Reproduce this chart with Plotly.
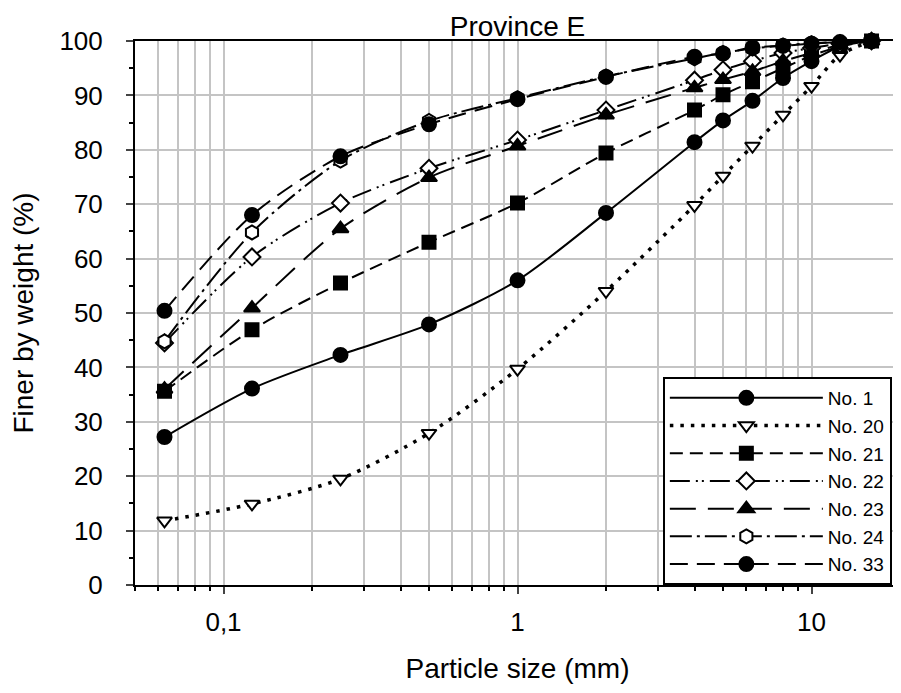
import plotly.graph_objects as go

sizes = [0.063, 0.125, 0.25, 0.5, 1, 2, 4, 5, 6.3, 8, 10, 12.5, 16]

no1 = [27.2, 36.1, 42.3, 47.9, 56.0, 68.4, 81.4, 85.4, 89.0, 93.2, 96.3, 99.0, 100]
no20 = [11.8, 14.9, 19.5, 27.9, 39.7, 54.0, 69.8, 75.2, 80.7, 86.4, 91.7, 97.4, 100]
no21 = [35.6, 46.9, 55.5, 63.0, 70.2, 79.4, 87.3, 90.1, 92.5, 95.0, 97.3, 99.0, 100]
no22 = [44.5, 60.3, 70.2, 76.6, 81.8, 87.3, 92.8, 94.7, 96.3, 97.8, 98.7, 99.5, 100]
no23 = [36.0, 50.9, 65.5, 74.9, 80.7, 86.4, 91.4, 92.9, 94.4, 96.3, 97.8, 99.3, 100]
no24 = [44.8, 64.8, 78.0, 85.3, 89.5, 93.5, 96.8, 97.8, 98.6, 99.2, 99.6, 99.8, 100]
no33 = [50.4, 68.0, 78.8, 84.7, 89.3, 93.4, 97.1, 97.7, 98.8, 99.1, 99.5, 99.8, 100]

names = ["No. 1", "No. 20", "No. 21", "No. 22", "No. 23", "No. 24", "No. 33"]
series = [no1, no20, no21, no22, no23, no24, no33]
symbols = ["circle", "triangle-down", "square", "diamond",
           "triangle-up", "hexagon", "circle"]
fills = ["black", "white", "black", "white", "black", "white", "black"]
msizes = [14, 13, 13, 13, 14, 14, 14]
dashes = ["solid", "3.5px,7px", "13px,7px", "20px,6px,2px,4px,2px,6px",
          "26px,12px", "22px,5px,3px,5px", "18px,9px"]
widths = [2, 3.5, 2, 2, 2, 2, 2]

xticks = [0.1, 1, 10]
xticktext = ["0,1", "1", "10"]
minor_x = [0.05, 0.06, 0.07, 0.08, 0.09, 0.2, 0.3, 0.4, 0.5, 0.6, 0.7, 0.8, 0.9,
           2, 3, 4, 5, 6, 7, 8, 9, 20]

fig = go.Figure()
for name, ys, sym, fc, ms, dash, w in zip(names, series, symbols, fills, msizes, dashes, widths):
    fig.add_trace(go.Scatter(
        x=sizes, y=ys, name=name, mode="lines+markers",
        line=dict(color="black", width=w, dash=dash, shape="spline", smoothing=0.8),
        marker=dict(symbol=sym, size=ms, color=fc,
                    line=dict(color="black", width=2)),
        cliponaxis=False,
    ))

# The page body has an 8px margin; the figure is sized to fill the window.
fig.update_layout(
    width=893, height=685,
    margin=dict(l=127, r=1, t=33, b=108),
    paper_bgcolor="white", plot_bgcolor="white",
    font=dict(family="Liberation Sans, Arial, sans-serif", color="black", size=26),
    title=dict(text="Province E", x=0.5, xref="paper", xanchor="center",
               y=1, yref="paper", yanchor="bottom", pad=dict(b=5),
               font=dict(size=28)),
    showlegend=True,
    legend=dict(x=0.69, y=0, xanchor="left", yanchor="bottom",
                bgcolor="white", bordercolor="black", borderwidth=2,
                font=dict(size=19), itemwidth=153, tracegroupgap=0,
                itemclick=False),
)
fig.update_xaxes(
    type="log", range=[-1.301, 1.301],
    tickvals=xticks, ticktext=xticktext, ticks="outside", ticklen=7, tickwidth=1.5,
    ticklabelstandoff=6,
    showgrid=True, gridcolor="#c4c4c4", gridwidth=1.5,
    minor=dict(tickvals=minor_x, ticks="outside", ticklen=4, showgrid=True,
               gridcolor="#c4c4c4", gridwidth=1.5, tickcolor="black"),
    showline=True, linecolor="black", linewidth=2, mirror=True,
    title=dict(text="Particle size (mm)", standoff=22, font=dict(size=28)),
    tickfont=dict(size=26), zeroline=False,
)
fig.update_yaxes(
    range=[0, 100], dtick=10, ticks="outside", ticklen=7, tickwidth=1.5,
    ticklabelstandoff=18,
    showgrid=True, gridcolor="#c4c4c4", gridwidth=1.5,
    minor=dict(dtick=5, ticks="outside", ticklen=4, showgrid=False, tickcolor="black"),
    showline=True, linecolor="black", linewidth=2,
    title=dict(text="Finer by weight (%)", standoff=18, font=dict(size=28)),
    tickfont=dict(size=26), zeroline=False,
)

fig.write_html("out.html")
